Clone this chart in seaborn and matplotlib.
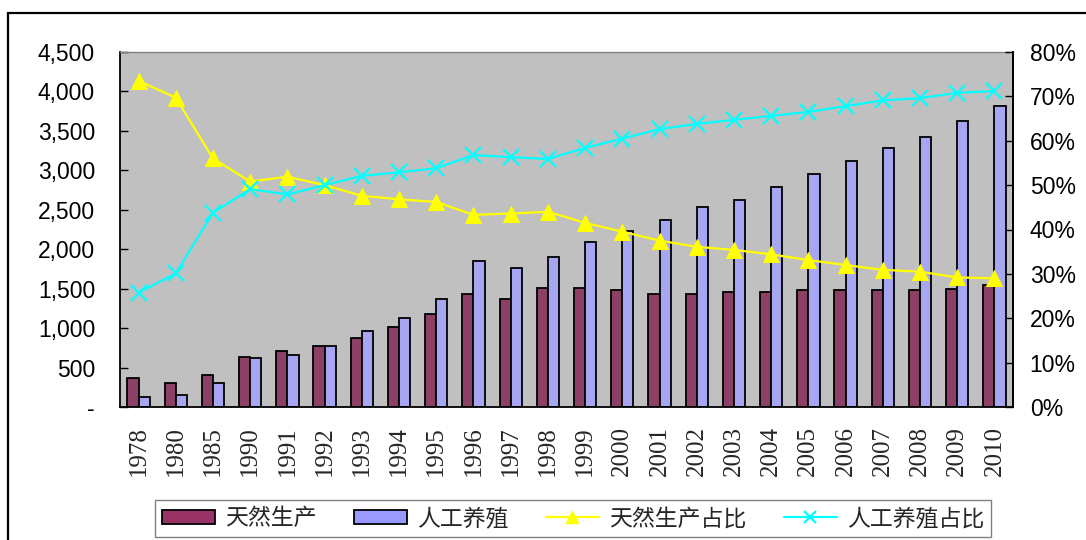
import numpy as np
import pandas as pd
import seaborn as sns
from matplotlib import pyplot as plt
from matplotlib.patches import Rectangle
from matplotlib.ticker import FuncFormatter, FixedLocator

# data
years = ['1978', '1980', '1985', '1990', '1991', '1992', '1993', '1994', '1995', '1996',
         '1997', '1998', '1999', '2000', '2001', '2002', '2003', '2004', '2005', '2006',
         '2007', '2008', '2009', '2010']
natural = [364, 308, 406, 638, 710, 773, 870, 1010, 1179, 1432,
           1365, 1504, 1504, 1479, 1432, 1432, 1454, 1454, 1479, 1479,
           1479, 1479, 1500, 1550]
farmed = [131, 152, 308, 617, 659, 773, 963, 1124, 1365, 1855,
          1758, 1898, 2088, 2231, 2370, 2531, 2624, 2785, 2953, 3114,
          3283, 3422, 3629, 3815]
natural_pct = [73.5, 69.7, 56.0, 50.8, 51.9, 50.0, 47.6, 46.8, 46.2, 43.3,
               43.6, 44.0, 41.5, 39.5, 37.5, 36.1, 35.4, 34.4, 33.1, 32.0,
               30.9, 30.5, 29.2, 29.0]
farmed_pct = [25.8, 30.1, 43.8, 49.1, 47.9, 50.0, 52.1, 52.9, 53.8, 56.8,
              56.3, 55.9, 58.4, 60.5, 62.6, 63.8, 64.7, 65.6, 66.5, 67.8,
              69.1, 69.6, 70.8, 71.2]
series_names = ['天然生产', '人工养殖', '天然生产占比', '人工养殖占比']


def main():
    sns.set_style('white')
    plt.rcParams['font.family'] = ['Liberation Sans', 'DejaVu Sans']

    df = pd.DataFrame({
        'year': years * 2,
        'value': natural + farmed,
        'type': [series_names[0]] * len(years) + [series_names[1]] * len(years),
    })

    fig = plt.figure(figsize=(10.86, 5.4), dpi=100)
    ax = fig.add_axes([120 / 1086, 1 - 407 / 540, 893 / 1086, 355 / 540])
    ax.set_facecolor('#C0C0C0')

    sns.barplot(data=df, x='year', y='value', hue='type', order=years,
                palette=['#993366', '#9999FF'], edgecolor='black', linewidth=1.3,
                width=0.6, ax=ax)
    ax.set_xlim(-0.5, len(years) - 0.5)
    ax.set_ylim(0, 4500)
    ax.set_yticks(np.arange(0, 4501, 500))
    ax.yaxis.set_major_formatter(FuncFormatter(lambda v, p: '-' if v == 0 else f'{v:,.0f}'))
    ax.set_xlabel('')
    ax.set_ylabel('')
    ax.tick_params(axis='y', direction='in', length=6, width=1, labelsize=16.5, pad=18, colors='black')
    ax.tick_params(axis='x', which='major', length=0, pad=14)
    ax.xaxis.set_minor_locator(FixedLocator(np.arange(-0.5, len(years), 1)))
    ax.tick_params(axis='x', which='minor', direction='in', length=6, width=1)
    for lab in ax.get_xticklabels():
        lab.set_rotation(90)
        lab.set_family(['Liberation Serif', 'DejaVu Serif'])
        lab.set_fontsize(18)
    ax.get_legend().remove()

    for side in ['left', 'bottom', 'right']:
        ax.spines[side].set_color('black')
        ax.spines[side].set_linewidth(1.3)
    ax.spines['top'].set_color('#808080')
    ax.spines['top'].set_linewidth(1)

    # share lines on the right axis
    ax2 = ax.twinx()
    pos = np.arange(len(years))
    sns.lineplot(x=pos, y=np.array(natural_pct) / 100, color='#FFFF00', linewidth=1.6,
                 marker='^', markersize=11, markeredgecolor='#FFFF00', ax=ax2)
    sns.lineplot(x=pos, y=np.array(farmed_pct) / 100, color='#00FFFF', linewidth=1.6,
                 marker='x', markersize=11, markeredgewidth=1.6, markeredgecolor='#00FFFF', ax=ax2)
    ax2.set_ylim(0, 0.8)
    ax2.set_yticks(np.arange(0, 0.81, 0.1))
    ax2.yaxis.set_major_formatter(FuncFormatter(lambda v, p: f'{v * 100:.0f}%'))
    ax2.tick_params(axis='y', direction='in', length=6, width=1, labelsize=16.5, pad=12, colors='black')
    ax2.set_xlim(-0.5, len(years) - 0.5)
    for side in ax2.spines:
        ax2.spines[side].set_visible(False)
    ax2.spines['right'].set_visible(True)
    ax2.spines['right'].set_color('black')
    ax2.spines['right'].set_linewidth(1.3)

    # legend
    handles = [
        Rectangle((0, 0), 1, 1, facecolor='#993366', edgecolor='black', linewidth=1.3),
        Rectangle((0, 0), 1, 1, facecolor='#9999FF', edgecolor='black', linewidth=1.3),
        plt.Line2D([], [], color='#FFFF00', linewidth=1.6, marker='^', markersize=9),
        plt.Line2D([], [], color='#00FFFF', linewidth=1.6, marker='x', markersize=9, markeredgewidth=1.6),
    ]
    leg = fig.legend(handles, series_names, loc='lower left', ncol=4,
                     bbox_to_anchor=(155 / 1086, 3 / 540, 836 / 1086, 34 / 540), mode='expand',
                     fancybox=False, framealpha=1, edgecolor='#808080', handlelength=2.3,
                     handleheight=0.6, handletextpad=0.45, columnspacing=2.5,
                     borderaxespad=0, borderpad=0.3,
                     prop={'family': ['Noto Sans CJK SC', 'DejaVu Sans'], 'size': 16.5})
    leg.get_frame().set_linewidth(1)

    # outer chart border (cropped at right and bottom)
    fig.patches.append(Rectangle((8 / 1086, -0.2), 1.2, 1.2 - 13 / 540, transform=fig.transFigure,
                                 fill=False, edgecolor='black', linewidth=1.6))

    fig.savefig('out.png', dpi=100)


if __name__ == '__main__':
    main()
